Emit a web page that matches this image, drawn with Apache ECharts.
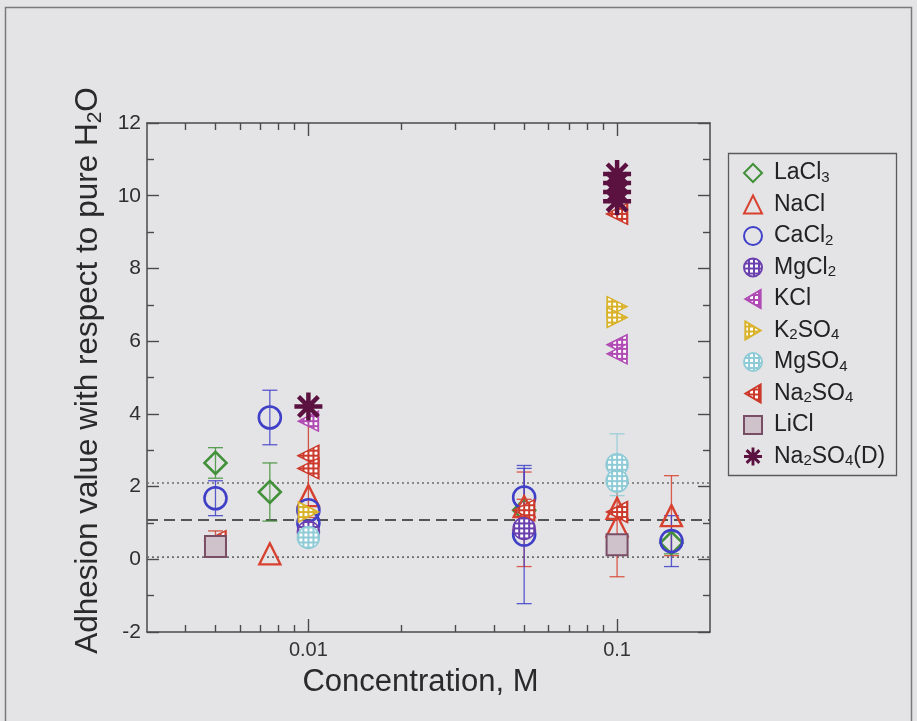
<!DOCTYPE html>
<html>
<head>
<meta charset="utf-8">
<script src="https://cdn.jsdelivr.net/npm/echarts@6/dist/echarts.min.js"></script>
<style>
  html, body { margin: 0; padding: 0; background: #e4e4e6; }
  #chart { width: 917px; height: 721px; }
</style>
</head>
<body>
<div id="chart"></div>
<script>
// Adhesion of each salt relative to pure water.
// Every point is [concentration (M), adhesion value, error half-width (0 = no bar)].
const LaCl3   = [[0.005, 2.65, 0.42], [0.0075, 1.85, 0.8], [0.05, 1.35, 0], [0.15, 0.45, 0.3]];
const NaCl    = [[0.0075, 0.15, 0], [0.01, 1.75, 0], [0.05, 1.45, 0], [0.05, 1.1, 1.3],
                 [0.1, 1.4, 0], [0.1, 0.92, 1.4], [0.15, 1.2, 1.1]];
const CaCl2   = [[0.005, 1.68, 0.48], [0.0075, 3.9, 0.75], [0.01, 1.35, 0], [0.01, 1.0, 0],
                 [0.05, 1.7, 0.8], [0.05, 0.68, 1.9], [0.15, 0.5, 0.7]];
const MgCl2   = [[0.01, 0.75, 0], [0.05, 0.85, 0]];
const KCl     = [[0.01, 3.8, 0], [0.1, 5.9, 0], [0.1, 5.65, 0]];
const K2SO4   = [[0.01, 1.3, 0], [0.1, 6.95, 0], [0.1, 6.65, 0]];
const MgSO4   = [[0.01, 0.6, 0], [0.1, 2.6, 0.85], [0.1, 2.15, 0]];
const Na2SO4  = [[0.005, 0.5, 0.28], [0.01, 2.85, 0], [0.01, 2.5, 1.35], [0.05, 1.35, 0.3],
                 [0.1, 9.5, 0], [0.1, 1.3, 0]];
const LiCl    = [[0.005, 0.35, 0.15], [0.1, 0.4, 0]];
const Na2SO4D = [[0.01, 4.2, 0], [0.1, 10.6, 0], [0.1, 10.35, 0], [0.1, 10.1, 0], [0.1, 9.85, 0]];

// Mean of the pure-water reference and its +/- one standard deviation band
const refMean  = 1.08;
const refBand  = [2.1, 0.06];

// Axis ranges and tick positions
const xRange = [0.003, 0.2];
const yRange = [-2, 12];
const yStep = 2;
const xMajorTicks = [0.01, 0.1];
const xMinorTicks = [0.004, 0.005, 0.006, 0.007, 0.008, 0.009,
                     0.02, 0.03, 0.04, 0.05, 0.06, 0.07, 0.08, 0.09];

const FONT = '"Liberation Sans", Arial, Helvetica, sans-serif';
const AXIS_COLOR = '#4a4a4a';

// Colored lattice with white holes; scale compensates for the symbol's own scaling
function lattice(color, scale) {
  const c = document.createElement('canvas');
  c.width = 5; c.height = 5;
  const g = c.getContext('2d');
  g.fillStyle = color; g.fillRect(0, 0, 5, 5);
  g.fillStyle = '#ffffff'; g.fillRect(1, 1, 3, 3);
  return { image: c, repeat: 'repeat', scaleX: scale, scaleY: scale };
}

const LEFT_TRI = 'path://M0,10L17,0L17,20Z';
const RIGHT_TRI = 'path://M17,10L0,0L0,20Z';
const ASTERISK = (function () {
  const w = 0.16, parts = [];
  [0, 45, 90, 135].forEach(function (deg) {
    const t = deg * Math.PI / 180, c = [Math.cos(t), Math.sin(t)], n = [-Math.sin(t) * w, Math.cos(t) * w];
    const pts = [[c[0] + n[0], c[1] + n[1]], [c[0] - n[0], c[1] - n[1]],
                 [-c[0] - n[0], -c[1] - n[1]], [-c[0] + n[0], -c[1] + n[1]]];
    parts.push('M' + pts.map(function (p) { return ((p[0] + 1) * 10).toFixed(2) + ',' + ((p[1] + 1) * 10).toFixed(2); }).join('L') + 'Z');
  });
  return 'path://' + parts.join('');
})();

// name, legend label (rich text), points, marker look
const SALTS = [
  { name: 'LaCl3',   label: 'LaCl{s|3}',       data: LaCl3,   color: '#43903a', symbol: 'diamond',  size: 22, fill: 'open',    bw: 2.6 },
  { name: 'NaCl',    label: 'NaCl',            data: NaCl,    color: '#d8412f', symbol: 'triangle', size: 21, fill: 'open',    bw: 2.4 },
  { name: 'CaCl2',   label: 'CaCl{s|2}',       data: CaCl2,   color: '#3f3fc8', symbol: 'circle',   size: 22, fill: 'open',    bw: 2.6 },
  { name: 'MgCl2',   label: 'MgCl{s|2}',       data: MgCl2,   color: '#6a3fae', symbol: 'circle',   size: 22, fill: 'lattice', bw: 1.5 },
  { name: 'KCl',     label: 'KCl',             data: KCl,     color: '#b04ab4', symbol: LEFT_TRI,   size: 20, fill: 'lattice', bw: 1.5 },
  { name: 'K2SO4',   label: 'K{s|2}SO{s|4}',   data: K2SO4,   color: '#d9b22a', symbol: RIGHT_TRI,  size: 20, fill: 'lattice', bw: 1.5 },
  { name: 'MgSO4',   label: 'MgSO{s|4}',       data: MgSO4,   color: '#8fcbd6', symbol: 'circle',   size: 22, fill: 'lattice', bw: 1.5 },
  { name: 'Na2SO4',  label: 'Na{s|2}SO{s|4}',  data: Na2SO4,  color: '#cc3a2c', symbol: LEFT_TRI,   size: 21, fill: 'lattice', bw: 1.5 },
  { name: 'LiCl',    label: 'LiCl',            data: LiCl,    color: '#cfc2ca', symbol: 'rect',     size: 21, fill: 'solid',   bw: 2, border: '#7a4d66' },
  { name: 'Na2SO4(D)', label: 'Na{s|2}SO{s|4}(D)', data: Na2SO4D, color: '#5b1240', symbol: ASTERISK, size: 28, fill: 'solid', bw: 0 }
];

const legendLabels = {};
SALTS.forEach(function (s) { legendLabels[s.name] = s.label; });

function fillFor(salt, scale) {
  if (salt.fill === 'open') return 'rgba(0,0,0,0)';
  if (salt.fill === 'lattice') return lattice(salt.color, scale);
  return salt.color;
}

function errorBars(salt, z) {
  return {
    type: 'custom',
    name: 'bars-' + salt.name,
    xAxisIndex: 0, yAxisIndex: 0,
    silent: true,
    z: z,
    data: salt.data.filter(function (p) { return p[2] > 0; }),
    encode: { x: 0, y: 1 },
    renderItem: function (params, api) {
      const x = api.value(0), y = api.value(1), e = api.value(2);
      const top = api.coord([x, y + e]), bot = api.coord([x, y - e]);
      const w = 7.5;
      const st = { stroke: salt.border || salt.color, lineWidth: 1.3, opacity: 0.85 };
      return {
        type: 'group',
        children: [
          { type: 'line', shape: { x1: top[0], y1: top[1], x2: bot[0], y2: bot[1] }, style: st },
          { type: 'line', shape: { x1: top[0] - w, y1: top[1], x2: top[0] + w, y2: top[1] }, style: st },
          { type: 'line', shape: { x1: bot[0] - w, y1: bot[1], x2: bot[0] + w, y2: bot[1] }, style: st }
        ]
      };
    }
  };
}

function markers(salt, z) {
  return {
    type: 'scatter',
    name: salt.name,
    xAxisIndex: 0, yAxisIndex: 0,
    z: z,
    symbol: salt.symbol,
    symbolSize: salt.size,
    data: salt.data.map(function (p) { return [p[0], p[1]]; }),
    itemStyle: {
      // scatter symbols are drawn at unit size and scaled by size/2
      color: fillFor(salt, 2 / salt.size),
      borderColor: salt.border || salt.color,
      borderWidth: salt.bw,
      opacity: 1
    },
    emphasis: { disabled: true }
  };
}

const referenceLines = {
  type: 'custom',
  name: 'reference',
  xAxisIndex: 0, yAxisIndex: 0,
  silent: true,
  z: 1,
  data: [[xRange[0], refMean, 0], [xRange[0], refBand[0], 1], [xRange[0], refBand[1], 1]],
  encode: { x: 0, y: 1 },
  renderItem: function (params, api) {
    const v = api.value(1), dotted = api.value(2) === 1;
    const a = api.coord([xRange[0], v]), b = api.coord([xRange[1], v]);
    return {
      type: 'line',
      shape: { x1: a[0], y1: a[1], x2: b[0], y2: b[1] },
      style: dotted
        ? { stroke: '#6c6c6c', lineWidth: 1.6, lineDash: [2, 3] }
        : { stroke: '#555555', lineWidth: 1.8, lineDash: [11, 6] }
    };
  }
};

const series = [referenceLines];
SALTS.forEach(function (s) { series.push(errorBars(s, 2)); });
SALTS.forEach(function (s, i) { series.push(markers(s, 3 + i)); });

const tickLine = { color: AXIS_COLOR, width: 1.4 };
function xAxisDef(position, ticks, len, showLabel, showLine) {
  return {
    type: 'log', logBase: 10, min: xRange[0], max: xRange[1],
    position: position,
    axisLine: { show: showLine, onZero: false, lineStyle: { color: AXIS_COLOR, width: 1.5 } },
    axisTick: { show: true, inside: true, length: len, customValues: ticks, lineStyle: tickLine },
    axisLabel: showLabel
      ? { show: true, customValues: xMajorTicks, fontSize: 20, color: '#333', fontFamily: FONT, margin: 8,
          formatter: function (v) { return String(+(+v).toPrecision(3)); } }
      : { show: false },
    splitLine: { show: false },
    minorTick: { show: false }
  };
}
function yAxisDef(position, showLabel) {
  return {
    type: 'value', min: yRange[0], max: yRange[1], interval: yStep,
    position: position,
    axisLine: { show: true, onZero: false, lineStyle: { color: AXIS_COLOR, width: 1.5 } },
    axisTick: { show: true, inside: true, length: 12, lineStyle: tickLine },
    minorTick: { show: true, splitNumber: 2, length: 7, lineStyle: tickLine },
    axisLabel: showLabel ? { show: true, fontSize: 21, color: '#2e2e2e', fontFamily: FONT, margin: 6 } : { show: false },
    splitLine: { show: false }
  };
}

const xBottom = xAxisDef('bottom', xMajorTicks, 13, true, true);
xBottom.name = 'Concentration, M';
xBottom.nameLocation = 'middle';
xBottom.nameGap = 35;
xBottom.nameTextStyle = { fontSize: 31, color: '#2a2a2a', fontFamily: FONT, padding: [0, 16, 0, 0] };

const yLeft = yAxisDef('left', true);
yLeft.name = 'Adhesion value with respect to pure H{s|2}O';
yLeft.nameLocation = 'middle';
yLeft.nameRotate = 90;
yLeft.nameGap = 41;
yLeft.nameTextStyle = {
  fontSize: 31.5, color: '#2a2a2a', fontFamily: FONT, lineHeight: 35, padding: [0, 0, 0, 14],
  rich: { s: { fontSize: 21, lineHeight: 12, verticalAlign: 'bottom', color: '#2a2a2a', fontFamily: FONT } }
};

const chart = echarts.init(document.getElementById('chart'), null, { renderer: 'canvas' });
chart.setOption({
  backgroundColor: '#e4e4e6',
  animation: false,
  grid: { left: 147, right: 207, top: 123, bottom: 89, containLabel: false },
  xAxis: [
    xBottom,
    xAxisDef('bottom', xMinorTicks, 7, false, false),
    xAxisDef('top', xMajorTicks, 13, false, true),
    xAxisDef('top', xMinorTicks, 7, false, false)
  ],
  yAxis: [yLeft, yAxisDef('right', false)],
  legend: {
    orient: 'vertical',
    left: 743, top: 161,
    itemWidth: 18, itemHeight: 18, itemGap: 7.5,
    padding: 0,
    selectedMode: false,
    data: SALTS.map(function (s) {
      return { name: s.name, itemStyle: { color: fillFor(s, 1) } };
    }),
    formatter: function (n) { return legendLabels[n]; },
    textStyle: {
      fontSize: 23, color: '#222', fontFamily: FONT, lineHeight: 24, padding: [0, 0, 0, 7],
      rich: { s: { fontSize: 15, lineHeight: 8, verticalAlign: 'bottom', color: '#222', fontFamily: FONT } }
    }
  },
  graphic: [
    { type: 'rect', silent: true, z: 100,
      shape: { x: 728.5, y: 153.5, width: 168, height: 322 },
      style: { fill: 'none', stroke: '#5a5a5a', lineWidth: 1.3 } },
    { type: 'rect', silent: true, z: 100,
      shape: { x: 5.5, y: 7.5, width: 906, height: 730 },
      style: { fill: 'none', stroke: '#7a7a7a', lineWidth: 1.5 } }
  ],
  series: series
});
</script>
</body>
</html>
